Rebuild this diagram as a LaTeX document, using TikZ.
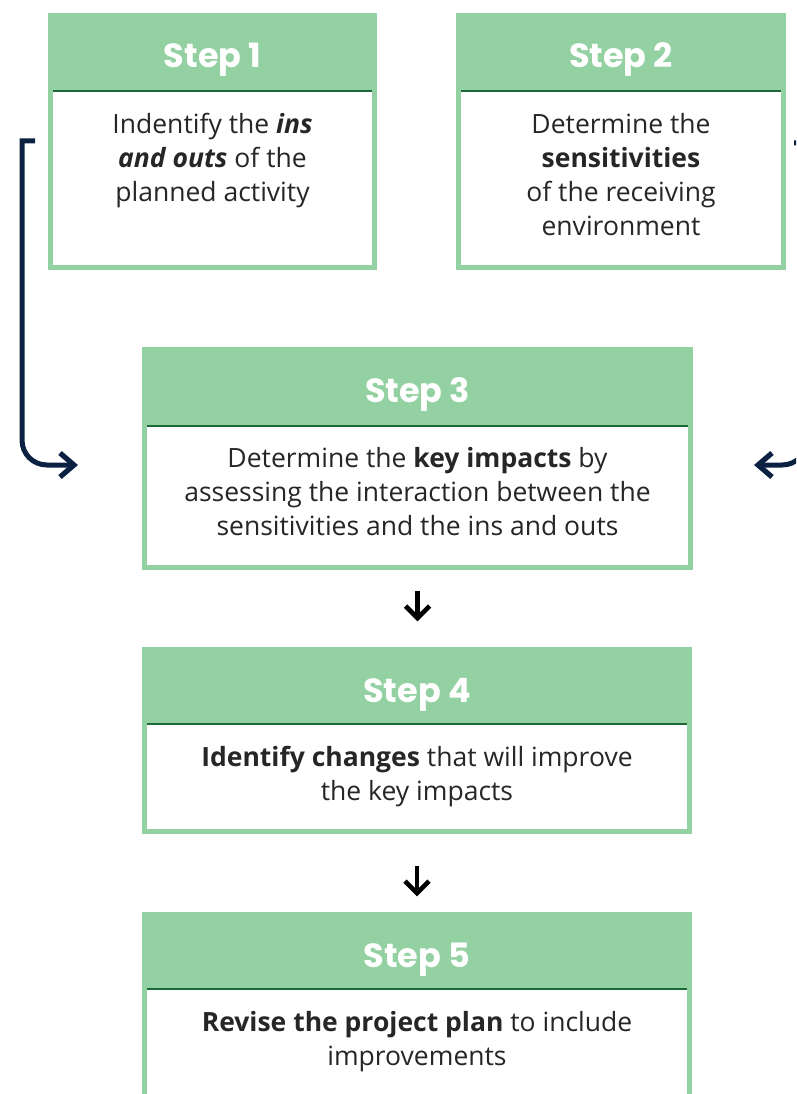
\documentclass[tikz,border=0pt]{standalone}
\usepackage{fontspec}
\setmainfont{Open Sans}
\newfontfamily\hdrfont{Poppins}
\usetikzlibrary{arrows.meta}
\definecolor{lgreen}{RGB}{148,209,162}
\definecolor{dgreen}{RGB}{28,104,56}
\definecolor{navy}{RGB}{11,33,66}
\definecolor{txt}{RGB}{38,38,38}
\begin{document}
\begin{tikzpicture}[x=1pt,y=-1pt,
  frame/.style={fill=lgreen, draw=none, inner sep=0, anchor=north west},
  inner/.style={fill=white},
  hline/.style={draw=dgreen, line width=2.4pt},
  hdr/.style={font=\hdrfont\fontsize{33.5}{33.5}\selectfont\bfseries, text=white, anchor=base, inner sep=0},
  body/.style={font=\fontsize{26.5}{34}\selectfont, text=txt, align=center, anchor=base, inner sep=0},
  bracket/.style={draw=navy, line width=5pt},
  chev/.style={draw=navy, line width=5.2pt, line join=miter},
  down/.style={draw=black, line width=4.2pt},
  dchev/.style={draw=black, line width=4.6pt, line join=miter}
]
\useasboundingbox (0,0) rectangle (796,1094);
\clip (0,0) rectangle (796,1094);

% Step 1
\node[frame, minimum width=329pt, minimum height=257pt] (s1) at (48,13) {};
\fill[inner] (53,91) rectangle (372,265);
\draw[hline] (53,91) -- (372,91);
\node[hdr] (s1h) at (212.5,68) {Step 1};
\node[body] (s1b) at (212.5,201) {Indentify the \textbf{\textit{ins}}\\\textbf{\textit{and outs}} of the\\planned activity};

% Step 2
\node[frame, minimum width=330pt, minimum height=257pt] (s2) at (456,13) {};
\fill[inner] (461,91) rectangle (781,265);
\draw[hline] (461,91) -- (781,91);
\node[hdr] (s2h) at (621,68) {Step 2};
\node[body] (s2b) at (621,235) {Determine the\\\textbf{sensitivities}\\of the receiving\\environment};

% Step 3
\node[frame, minimum width=551pt, minimum height=223pt] (s3) at (142,347) {};
\fill[inner] (147,426) rectangle (688,565);
\draw[hline] (147,426) -- (688,426);
\node[hdr] (s3h) at (417.5,402) {Step 3};
\node[body] (s3b) at (417.5,535) {Determine the \textbf{key impacts} by\\assessing the interaction between the\\sensitivities and the ins and outs};

% Step 4
\node[frame, minimum width=550pt, minimum height=187pt] (s4) at (142,647) {};
\fill[inner] (147,724) rectangle (687,829);
\draw[hline] (147,724) -- (687,724);
\node[hdr] (s4h) at (417,702) {Step 4};
\node[body] (s4b) at (417,800) {\textbf{Identify changes} that will improve\\the key impacts};

% Step 5
\node[frame, minimum width=550pt, minimum height=200pt] (s5) at (142,912) {};
\fill[inner] (147,989) rectangle (687,1112);
\draw[hline] (147,989) -- (687,989);
\node[hdr] (s5h) at (417,967) {Step 5};
\node[body] (s5b) at (417,1065) {\textbf{Revise the project plan} to include\\improvements};

% down arrows
\coordinate (d1a) at (417.5,591);
\coordinate (d1b) at (417.5,618);
\draw[down] (d1a) -- (d1b);
\draw[dchev] (d1b) ++(-12,-12) -- (d1b) -- ++(12,-12);
\coordinate (d2a) at (417,866);
\coordinate (d2b) at (417,893);
\draw[down] (d2a) -- (d2b);
\draw[dchev] (d2b) ++(-12,-12) -- (d2b) -- ++(12,-12);

% side brackets
\coordinate (lt) at (35,141);
\coordinate (ltip) at (74,465);
\draw[bracket] (lt) -- (22,141) -- (22,440) .. controls (22,454) and (33,465) .. (47,465) -- (ltip);
\draw[chev] (ltip) ++(-14,-12) -- (ltip) -- ++(-14,12);
\coordinate (rt) at (794,143);
\coordinate (rtip) at (758,465);
\draw[bracket] (rt) -- (807,143) -- (807,440) .. controls (807,454) and (796,465) .. (782,465) -- (rtip);
\draw[chev] (rtip) ++(14,-12) -- (rtip) -- ++(14,12);
\end{tikzpicture}
\end{document}
